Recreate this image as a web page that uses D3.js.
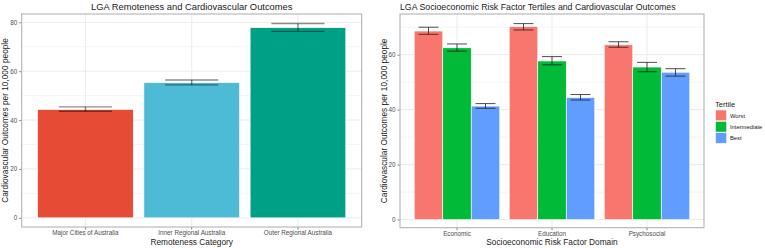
<!DOCTYPE html>
<html><head><meta charset="utf-8">
<script src="https://cdn.jsdelivr.net/npm/d3@7"></script>
<style>body{margin:0;background:#fff;} text{font-family:"Liberation Sans",Arial,Helvetica,sans-serif;}</style>
</head><body>
<svg id="c" width="765" height="248"></svg>
<script>
// Left panel data
const remoteCats = ["Major Cities of Australia","Inner Regional Australia","Outer Regional Australia"];
const remoteVals = [44.3, 55.3, 77.8];
const remoteLo = [43.6, 54.4, 76.3];
const remoteHi = [45.4, 56.4, 79.5];
const remoteColors = ["#E64B35","#4DBBD5","#00A087"];
// Right panel data
const domains = ["Economic","Education","Psychosocial"];
const tertiles = ["Worst","Intermediate","Best"];
const tertileColors = ["#F8766D","#00BA38","#619CFF"];
const worstVals = [68.6, 70.2, 63.6];
const worstLo = [67.4, 69.0, 62.7];
const worstHi = [70.0, 71.3, 64.7];
const interVals = [62.5, 57.7, 55.5];
const interLo = [61.3, 56.3, 53.8];
const interHi = [63.9, 59.3, 57.2];
const bestVals = [41.3, 44.4, 53.6];
const bestLo = [40.5, 43.5, 52.2];
const bestHi = [42.2, 45.5, 54.9];
const leftTicks = [0,20,40,60,80];
const leftMinor = [10,30,50,70];
const rightTicks = [0,20,40,60];
const rightMinor = [10,30,50,70];

const svg = d3.select("#c");
const gridCol = "#ebebeb", borderCol = "#b3b3b3", tickCol = "#4d4d4d", font = "Liberation Sans, Arial, sans-serif";

function drawGrid(g, x0, x1, y0, y1, y, ticks, minor, xb, cats){
  g.selectAll(null).data(minor).enter().append("line")
    .attr("x1",x0).attr("x2",x1).attr("y1",d=>y(d)).attr("y2",d=>y(d))
    .attr("stroke",gridCol).attr("stroke-width",0.5);
  g.selectAll(null).data(ticks).enter().append("line")
    .attr("x1",x0).attr("x2",x1).attr("y1",d=>y(d)).attr("y2",d=>y(d))
    .attr("stroke",gridCol).attr("stroke-width",1);
  g.selectAll(null).data(cats).enter().append("line")
    .attr("x1",d=>xb(d)+xb.bandwidth()/2).attr("x2",d=>xb(d)+xb.bandwidth()/2)
    .attr("y1",y0).attr("y2",y1).attr("stroke",gridCol).attr("stroke-width",1);
}

function drawAxes(g, x0, x1, y0, y1, y, ticks, xb){
  const ya = g.append("g").attr("transform",`translate(${x0},0)`)
    .call(d3.axisLeft(y).tickValues(ticks).tickSize(2.5).tickPadding(2));
  ya.select(".domain").remove();
  ya.selectAll("line").attr("stroke","#333").attr("stroke-width",0.6);
  ya.selectAll("text").attr("fill",tickCol).style("font-size","6.3px").style("font-family",font);
  const xa = g.append("g").attr("transform",`translate(0,${y1})`)
    .call(d3.axisBottom(xb).tickSize(2.5).tickPadding(1.5));
  xa.select(".domain").remove();
  xa.selectAll("line").attr("stroke","#333").attr("stroke-width",0.6);
  xa.selectAll("text").attr("fill",tickCol).style("font-size","6.3px").style("font-family",font);
  g.append("rect").attr("x",x0).attr("y",y0).attr("width",x1-x0).attr("height",y1-y0)
    .attr("fill","none").attr("stroke",borderCol).attr("stroke-width",1.1);
}

function errbar(g, cx, half, yLo, yHi, color, opacity, sw){
  const e = g.append("g").attr("stroke",color).attr("stroke-opacity",opacity).attr("stroke-width",sw);
  e.append("line").attr("x1",cx-half).attr("x2",cx+half).attr("y1",yHi).attr("y2",yHi);
  e.append("line").attr("x1",cx-half).attr("x2",cx+half).attr("y1",yLo).attr("y2",yLo);
  e.append("line").attr("x1",cx).attr("x2",cx).attr("y1",yHi).attr("y2",yLo);
}

// ---- Left panel ----
{
  const x0=21.7, x1=361.7, y0=14, y1=227;
  const g = svg.append("g");
  const xb = d3.scaleBand().domain(remoteCats).range([x0,x1]).paddingInner(0.1).paddingOuter(0.15);
  const y = d3.scaleLinear().domain([-3.75, 83.4]).range([y1, y0]);
  drawGrid(g, x0, x1, y0, y1, y, leftTicks, leftMinor, xb, remoteCats);
  remoteCats.forEach((c,i)=>{
    g.append("rect").attr("x",xb(c)).attr("width",xb.bandwidth())
      .attr("y",y(remoteVals[i])).attr("height",y(0)-y(remoteVals[i]))
      .attr("fill",remoteColors[i]).attr("stroke","#fff").attr("stroke-width",0.6);
  });
  const step = xb.step();
  remoteCats.forEach((c,i)=>{
    errbar(g, xb(c)+xb.bandwidth()/2, step*0.25, y(remoteLo[i]), y(remoteHi[i]), "#000", 0.45, 1.4);
  });
  drawAxes(g, x0, x1, y0, y1, y, leftTicks, xb);
  g.append("text").attr("x",(x0+x1)/2).attr("y",9.5).attr("text-anchor","middle")
    .style("font-size","9.35px").attr("fill","#1a1a1a").text("LGA Remoteness and Cardiovascular Outcomes");
  g.append("text").attr("x",(x0+x1)/2).attr("y",245).attr("text-anchor","middle")
    .style("font-size","8.3px").attr("fill","#1a1a1a").text("Remoteness Category");
  g.append("text").attr("transform",`translate(8.2,${(y0+y1)/2}) rotate(-90)`).attr("text-anchor","middle")
    .style("font-size","8.3px").attr("fill","#1a1a1a").text("Cardiovascular Outcomes per 10,000 people");
}

// ---- Right panel ----
{
  const x0=400, x1=704, y0=14, y1=227.7;
  const g = svg.append("g");
  const xb = d3.scaleBand().domain(domains).range([x0,x1]).paddingInner(0.1).paddingOuter(0.15);
  const xs = d3.scaleBand().domain(tertiles).range([0, xb.bandwidth()]).padding(0);
  const y = d3.scaleLinear().domain([-2.95, 74.8]).range([y1, y0]);
  drawGrid(g, x0, x1, y0, y1, y, rightTicks, rightMinor, xb, domains);
  const series = [
    {vals:worstVals, lo:worstLo, hi:worstHi},
    {vals:interVals, lo:interLo, hi:interHi},
    {vals:bestVals, lo:bestLo, hi:bestHi}
  ];
  domains.forEach((d,i)=>{
    tertiles.forEach((t,j)=>{
      const v = series[j].vals[i];
      g.append("rect").attr("x",xb(d)+xs(t)).attr("width",xs.bandwidth())
        .attr("y",y(v)).attr("height",y(0)-y(v))
        .attr("fill",tertileColors[j]).attr("stroke","#fff").attr("stroke-width",0.6);
    });
  });
  const half = xb.step()*0.105;
  domains.forEach((d,i)=>{
    tertiles.forEach((t,j)=>{
      errbar(g, xb(d)+xs(t)+xs.bandwidth()/2, half, y(series[j].lo[i]), y(series[j].hi[i]), "#222", 0.9, 0.9);
    });
  });
  drawAxes(g, x0, x1, y0, y1, y, rightTicks, xb);
  g.append("text").attr("x",x0).attr("y",9.5).attr("text-anchor","start")
    .style("font-size","8.75px").attr("fill","#1a1a1a").text("LGA Socioeconomic Risk Factor Tertiles and Cardiovascular Outcomes");
  g.append("text").attr("x",(x0+x1)/2).attr("y",245).attr("text-anchor","middle")
    .style("font-size","8.3px").attr("fill","#1a1a1a").text("Socioeconomic Risk Factor Domain");
  g.append("text").attr("transform",`translate(386.5,${(y0+y1)/2}) rotate(-90)`).attr("text-anchor","middle")
    .style("font-size","8.3px").attr("fill","#1a1a1a").text("Cardiovascular Outcomes per 10,000 people");
  // legend
  const lg = g.append("g");
  lg.append("text").attr("x",715).attr("y",106.5).style("font-size","7.6px").attr("fill","#1a1a1a").text("Tertile");
  tertiles.forEach((t,j)=>{
    lg.append("rect").attr("x",715.5).attr("y",110+j*11.3).attr("width",11.2).attr("height",10.8)
      .attr("fill",tertileColors[j]).attr("stroke","#fff").attr("stroke-width",0.6);
    lg.append("text").attr("x",730).attr("y",110+j*11.3+7.6).style("font-size","5.8px").attr("fill","#1a1a1a").text(t);
  });
}
</script>
</body></html>
